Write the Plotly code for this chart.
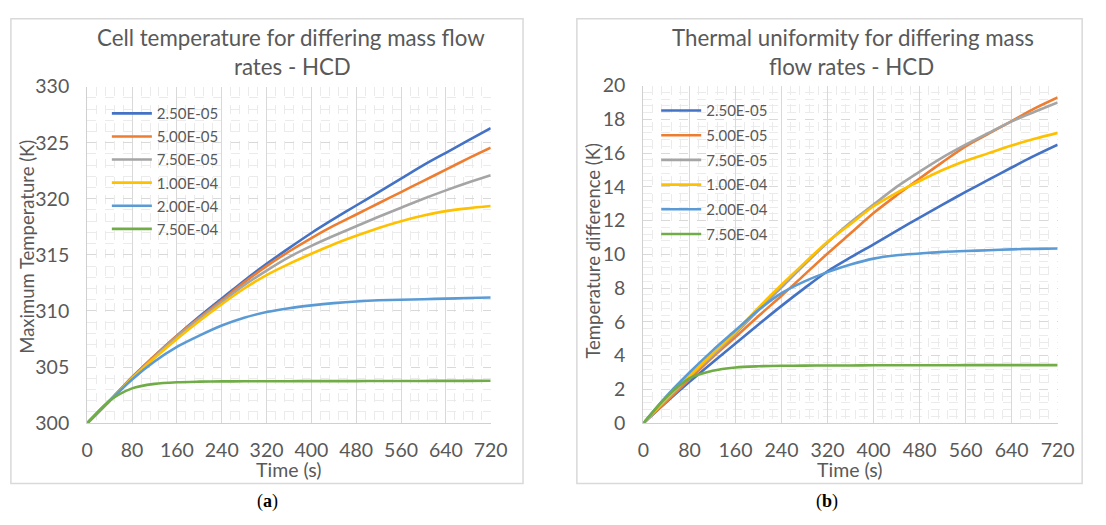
import plotly.graph_objects as go

# Time axis (s)
time_s = [0, 40, 80, 120, 160, 200, 240, 280, 320, 360, 400, 440, 480, 520, 560, 600, 640, 680, 720]

# Mass flow rates (legend labels)
flow_labels = ["2.50E-05", "5.00E-05", "7.50E-05", "1.00E-04", "2.00E-04", "7.50E-04"]
line_colors = ["#4472C4", "#ED7D31", "#A5A5A5", "#FFC000", "#5B9BD5", "#70AD47"]

# (a) Maximum cell temperature (K)
tmax_25e5 = [300, 302.0, 304.1, 306.0, 307.8, 309.5, 311.1, 312.7, 314.2, 315.6, 316.95, 318.2, 319.4, 320.6, 321.8, 323.0, 324.1, 325.2, 326.3]
tmax_50e5 = [300, 302.0, 304.1, 306.0, 307.8, 309.4, 310.95, 312.55, 314.0, 315.3, 316.5, 317.6, 318.6, 319.6, 320.6, 321.6, 322.6, 323.6, 324.55]
tmax_75e5 = [300, 302.0, 304.0, 305.9, 307.7, 309.3, 310.8, 312.3, 313.6, 314.8, 315.8, 316.7, 317.55, 318.4, 319.2, 320.0, 320.75, 321.45, 322.1]
tmax_10e4 = [300, 302.0, 304.0, 305.8, 307.5, 309.1, 310.6, 312.0, 313.2, 314.2, 315.1, 315.95, 316.7, 317.4, 318.0, 318.5, 318.9, 319.15, 319.35]
tmax_20e4 = [300, 302.0, 303.9, 305.5, 306.8, 307.8, 308.7, 309.4, 309.9, 310.25, 310.5, 310.7, 310.85, 310.95, 311.0, 311.05, 311.1, 311.15, 311.2]
tmax_75e4 = [300, 302.0, 303.1, 303.5, 303.65, 303.7, 303.72, 303.73, 303.74, 303.74, 303.75, 303.75, 303.75, 303.76, 303.76, 303.76, 303.77, 303.77, 303.78]

# (b) Temperature difference across the module (K)
dT_25e5 = [0, 1.25, 2.45, 3.6, 4.72, 5.85, 6.95, 8.0, 9.0, 9.82, 10.6, 11.4, 12.18, 12.95, 13.7, 14.43, 15.15, 15.85, 16.5]
dT_50e5 = [0, 1.3, 2.6, 3.9, 5.1, 6.35, 7.55, 8.8, 10.05, 11.25, 12.45, 13.5, 14.5, 15.47, 16.4, 17.15, 17.9, 18.65, 19.3]
dT_75e5 = [0, 1.4, 2.75, 4.0, 5.3, 6.7, 8.05, 9.4, 10.7, 11.9, 12.95, 14.0, 14.9, 15.75, 16.5, 17.2, 17.88, 18.45, 19.0]
dT_10e4 = [0, 1.45, 2.8, 4.1, 5.4, 6.85, 8.2, 9.5, 10.75, 11.8, 12.85, 13.65, 14.35, 15.0, 15.55, 16.0, 16.45, 16.85, 17.2]
dT_20e4 = [0, 1.6, 3.0, 4.3, 5.5, 6.7, 7.7, 8.4, 8.95, 9.4, 9.75, 9.95, 10.05, 10.15, 10.2, 10.25, 10.3, 10.33, 10.35]
dT_75e4 = [0, 1.55, 2.65, 3.1, 3.3, 3.37, 3.4, 3.41, 3.42, 3.42, 3.43, 3.43, 3.43, 3.43, 3.44, 3.44, 3.44, 3.44, 3.44]

tmax_series = [tmax_25e5, tmax_50e5, tmax_75e5, tmax_10e4, tmax_20e4, tmax_75e4]
dT_series = [dT_25e5, dT_50e5, dT_75e5, dT_10e4, dT_20e4, dT_75e4]

W, H = 1106, 525
FONT = "Lato, 'Open Sans', sans-serif"
TXT = "#595959"


def px(x):
    return x / W


def py(y):
    return 1 - y / H


fig = go.Figure()

for i, (name, color, ys) in enumerate(zip(flow_labels, line_colors, tmax_series)):
    fig.add_trace(go.Scatter(
        x=time_s, y=ys, name=name, mode="lines",
        line=dict(color=color, width=2.6, shape="spline", smoothing=0.8),
        xaxis="x", yaxis="y", legend="legend", legendgroup=f"a{i}",
    ))

for i, (name, color, ys) in enumerate(zip(flow_labels, line_colors, dT_series)):
    fig.add_trace(go.Scatter(
        x=time_s, y=ys, name=name, mode="lines",
        line=dict(color=color, width=2.6, shape="spline", smoothing=0.8),
        xaxis="x2", yaxis="y2", legend="legend2", legendgroup=f"b{i}",
    ))

x_common = dict(
    range=[0, 720], dtick=80, tick0=0,
    showgrid=True, gridcolor="#d9d9d9", gridwidth=1.3,
    showline=True, linecolor="#d0d0d0", linewidth=1.3,
    zeroline=False, ticks="",
    tickfont=dict(family=FONT, size=19.5, color=TXT),
    ticklabelstandoff=9,
    minor=dict(dtick=16, showgrid=True, gridcolor="#ebebeb", griddash="dash", gridwidth=1),
)

y_common = dict(
    showgrid=True, gridcolor="#d9d9d9", griddash="dash", gridwidth=1.3,
    showline=True, linecolor="#d0d0d0", linewidth=1.3,
    zeroline=False, ticks="",
    tickfont=dict(family=FONT, size=19.5, color=TXT),
    ticklabelstandoff=13,
)

legend_common = dict(
    xanchor="left", yanchor="top", bgcolor="rgba(0,0,0,0)",
    font=dict(family=FONT, size=15, color=TXT), itemwidth=40,
)

fig.update_layout(
    width=W, height=H,
    margin=dict(l=0, r=0, t=0, b=0),
    paper_bgcolor="white", plot_bgcolor="white",
    font=dict(family=FONT, color=TXT),
    xaxis=dict(domain=[px(83), px(495)], anchor="y", **x_common),
    yaxis=dict(domain=[py(430), py(78)], anchor="x", range=[300, 330], dtick=5,
               minor=dict(dtick=1, showgrid=True, gridcolor="#ebebeb", griddash="dash", gridwidth=1),
               **y_common),
    xaxis2=dict(domain=[px(651), px(1074)], anchor="y2", **x_common),
    yaxis2=dict(domain=[py(430), py(77)], anchor="x2", range=[0, 20], dtick=2,
                minor=dict(dtick=0.4, showgrid=True, gridcolor="#ebebeb", griddash="dash", gridwidth=1),
                **y_common),
    legend=dict(x=px(103), y=py(89), tracegroupgap=0.6, **legend_common),
    legend2=dict(x=px(664), y=py(86), tracegroupgap=2.2, **legend_common),
    showlegend=True,
)

# Panel frames
for x0, x1 in [(5, 528), (583, 1099)]:
    fig.add_shape(type="rect", xref="paper", yref="paper",
                  x0=px(x0), x1=px(x1), y0=py(493), y1=py(7),
                  line=dict(color="#d9d9d9", width=1.5), fillcolor="rgba(0,0,0,0)", layer="below")


def note(text, x, y, size, angle=0, family=FONT, color=TXT):
    fig.add_annotation(text=text, x=px(x), y=py(y), xref="paper", yref="paper",
                       showarrow=False, xanchor="center", yanchor="middle",
                       textangle=angle, font=dict(family=family, size=size, color=color))


# Chart titles
note("Cell temperature for differing mass flow", 291, 27, 22.3)
note("rates - HCD", 293, 57, 22.3)
note("Thermal uniformity for differing mass", 865, 27, 22.3)
note("flow rates - HCD", 863, 57, 22.3)

# Axis titles
note("Time (s)", 289, 478, 19.5)
note("Time (s)", 862, 478, 19.5)
note("Maximum Temperature (K)", 22, 246, 18.5, angle=-90)
note("Temperature difference (K)", 600, 250, 18.5, angle=-90)

# Panel labels
note("(<b>a</b>)", 267, 512, 18, family="'Liberation Serif', 'DejaVu Serif', serif", color="#000000")
note("(<b>b</b>)", 838, 512, 18, family="'Liberation Serif', 'DejaVu Serif', serif", color="#000000")

fig.write_html("out.html")
